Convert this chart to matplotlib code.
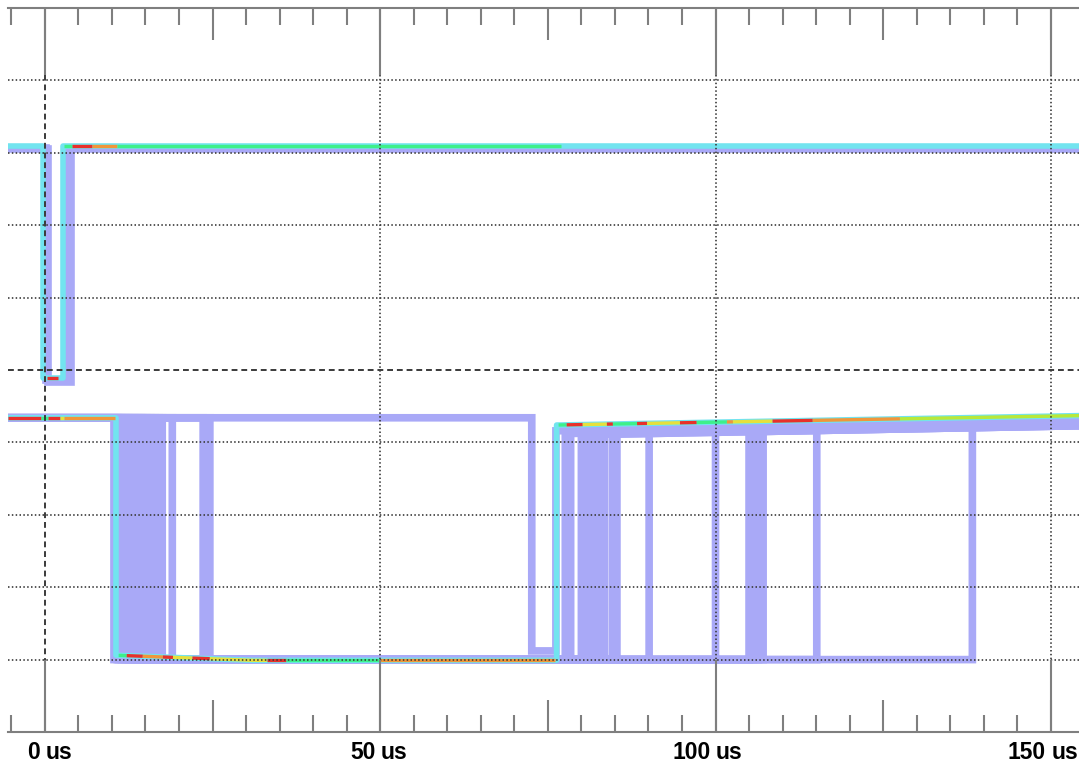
import numpy as np
import matplotlib
matplotlib.use("Agg")
import matplotlib.pyplot as plt

# time axis (us) and screen divisions (0 = bottom, 10 = top)
t_min, t_max = -5.5, 154.2
label_times = [0, 50, 100, 150]

# channel A: main (most frequent) trace
a_t = [-5.5, -0.3, -0.3, 2.7, 2.7, 154.2]
a_v = [8.09, 8.09, 4.89, 4.89, 8.09, 8.09]
# channel A: rare traces (fall, rise, low level, high level)
a_fall = [0.2, 0.45]
a_rise = [3.3, 3.9]
a_low = [4.86, 4.84]
a_high = [8.07, 8.05]

# channel B: main trace
b_t = [-5.5, 10.6, 10.6, 31.0, 76.3, 76.3, 154.2]
b_v = [4.34, 4.34, 1.06, 0.99, 0.99, 4.24, 4.37]
# channel B: rare traces, paired fall / rise times
b_fall = [72.6, 10.3, 10.8, 11.4, 12.0, 12.5, 13.4, 14.0, 14.6, 15.2, 15.8,
          16.4, 17.0, 17.5, 19.0, 23.6, 24.6, 11.0, 14.3]
b_rise = [76.2, 77.6, 78.4, 80.0, 80.7, 81.4, 82.1, 82.7, 83.4, 84.6, 85.3,
          90.1, 100.0, 105.0, 105.7, 106.4, 107.1, 115.1, 138.3]
b_low = [1.12] + [1.0] * 18
b_high_pre = 4.34
b_post_offset = [-0.08, -0.12, -0.06, -0.1, -0.14, -0.08, -0.12, -0.06, -0.1,
                 -0.14, -0.08, -0.12, -0.06, -0.1, -0.14, -0.08, -0.12, -0.06,
                 -0.08]

# persistence colours along the main traces (start, end, colour key)
a_hot = [(-5.5, -0.4, "cyan"), (0.3, 1.9, "red"), (2.8, 4.0, "green"),
         (4.0, 7.0, "red"), (7.0, 10.8, "orange"), (10.8, 77.0, "green")]
b_hot = [(-5.5, -0.6, "red"), (-0.6, 0.4, "green"), (0.4, 2.2, "red"),
         (2.2, 2.9, "yellow"), (2.9, 10.4, "orange"),
         (11.0, 12.2, "green"), (12.2, 14.6, "red"), (14.6, 17.6, "orange"),
         (17.6, 19.1, "red"), (19.1, 22.0, "yellow"), (22.0, 24.6, "red"),
         (24.6, 33.1, "yellow"), (33.1, 36.0, "red"), (36.0, 50.0, "green"),
         (50.0, 76.1, "orange"),
         (76.6, 77.8, "green"), (77.8, 80.2, "red"), (80.2, 83.8, "yellow"),
         (83.8, 84.7, "red"), (84.7, 88.3, "green"), (88.3, 89.8, "red"),
         (89.8, 94.7, "yellow"), (94.7, 97.2, "red"), (97.2, 101.7, "green"),
         (101.7, 102.6, "orange"), (102.6, 108.5, "yellow"),
         (108.5, 114.5, "red"), (114.5, 127.5, "orange"),
         (127.5, 154.2, "yellowgreen")]

colors = {"lav": "#a9a9f7", "cyan": "#72e4ef", "green": "#3ef08a",
          "yellow": "#e6e03c", "orange": "#f0963a", "red": "#e8302a",
          "yellowgreen": "#b8e83a"}
grid_col = "#3a3a3a"
axis_col = "#7f7f7f"

fig = plt.figure(figsize=(10.79, 7.68), dpi=100)
ax = fig.add_axes([8 / 1079, 36 / 768, 1071 / 1079, 724 / 768])
ax.set_xlim(t_min, t_max)
ax.set_ylim(0, 10)

# rare traces (lavender)
for tf, tr, lo, hi in zip(a_fall, a_rise, a_low, a_high):
    ax.plot([t_min, tf, tf, tr, tr, t_max], [hi, hi, lo, lo, hi, hi],
            color=colors["lav"], lw=5.5, solid_joinstyle="miter", zorder=2)
for tf, tr, lo, off in zip(b_fall, b_rise, b_low, b_post_offset):
    # high level after the rise follows the main trace's final plateau
    hp0 = np.interp(tr, b_t[-2:], b_v[-2:]) + off
    hp1 = b_v[-1] + off
    ax.plot([t_min, tf, tf, tr, tr, t_max],
            [b_high_pre, b_high_pre, lo, lo, hp0, hp1],
            color=colors["lav"], lw=5.5, solid_joinstyle="miter", zorder=2)

# main traces
ax.plot(a_t, a_v, color=colors["cyan"], lw=4, zorder=3)
ax.plot(b_t, b_v, color=colors["cyan"], lw=4, zorder=3)
for hot, tt, vv in ((a_hot, a_t, a_v), (b_hot, b_t, b_v)):
    for t0, t1, key in hot:
        ts = np.linspace(t0, t1, 20)
        ax.plot(ts, np.interp(ts, tt, vv), color=colors[key], lw=2.4,
                solid_capstyle="butt", zorder=4)

# graticule
dotted = (0, (0.9, 1.4))
for lvl in range(1, 10):
    if lvl == 5:
        ax.axhline(lvl, color=grid_col, lw=1.4, ls=(0, (3, 2)), zorder=5)
    else:
        ax.axhline(lvl, color=grid_col, lw=1.2, ls=dotted, zorder=5)
ax.axvline(0, color=grid_col, lw=1.4, ls=(0, (3, 2)), zorder=5)
ax.vlines(label_times[1:], 0, 1, transform=ax.get_xaxis_transform(),
          color=grid_col, lw=1.2, ls=dotted, zorder=5)

# axis rulers top and bottom
for side in ("left", "right"):
    ax.spines[side].set_visible(False)
for side in ("top", "bottom"):
    ax.spines[side].set_color(axis_col)
    ax.spines[side].set_linewidth(1.5)
    ax.spines[side].set_zorder(6)
ax.set_yticks([])
ax.set_xticks(np.arange(0, 151, 25))
ax.set_xticks(np.arange(-5, 155, 5), minor=True)
ax.tick_params(axis="x", which="both", direction="in", top=True, bottom=True,
               labelbottom=False, color=axis_col, width=1.5)
ax.tick_params(axis="x", which="major", length=23)
ax.tick_params(axis="x", which="minor", length=12)
ax.vlines(label_times, 0, 0.099, transform=ax.get_xaxis_transform(),
          color=axis_col, lw=1.5, zorder=6)
ax.vlines(label_times, 1 - 0.093, 1, transform=ax.get_xaxis_transform(),
          color=axis_col, lw=1.5, zorder=6)

# labels: number right-aligned before the tick, unit starting at the tick
for t in label_times:
    ax.annotate(str(t), xy=(t, 0), xycoords=("data", "axes fraction"),
                xytext=(-3.5, -14.5), textcoords="offset points",
                ha="right", va="center", fontsize=16.5, fontweight="bold",
                family="Liberation Sans", annotation_clip=False)
    ax.annotate("us", xy=(t, 0), xycoords=("data", "axes fraction"),
                xytext=(0.3, -14.5), textcoords="offset points",
                ha="left", va="center", fontsize=16.5, fontweight="bold",
                family="Liberation Sans", annotation_clip=False)

fig.savefig("out.png", dpi=100)
